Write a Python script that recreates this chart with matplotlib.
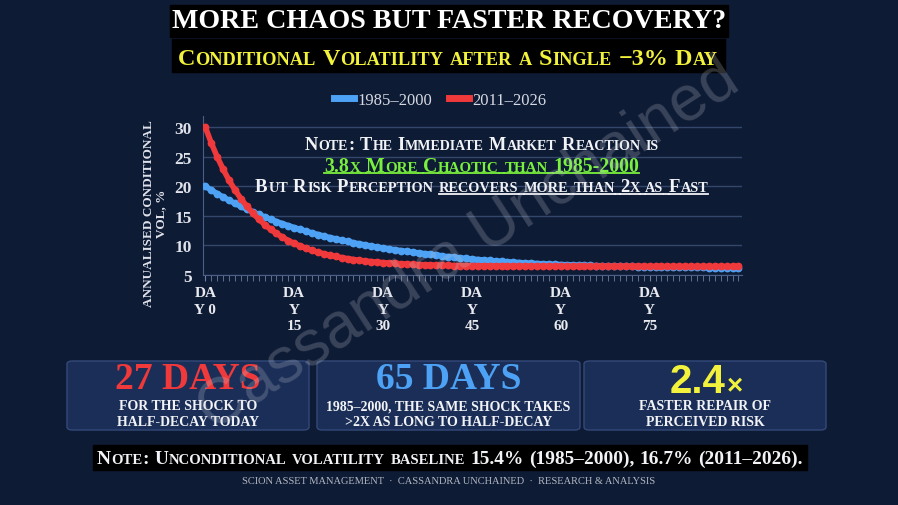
import matplotlib
matplotlib.use("Agg")
import matplotlib.pyplot as plt
from matplotlib.patches import FancyBboxPatch, Rectangle
from matplotlib.lines import Line2D

# ---- data ----
days = list(range(91))
vol_1985_2000 = [
    20.0, 19.37, 18.76, 18.19, 17.63, 17.11, 16.61, 16.13, 15.68, 15.24,
    14.83, 14.43, 14.05, 13.69, 13.35, 13.02, 12.71, 12.41, 12.12, 11.85,
    11.59, 11.34, 11.11, 10.88, 10.67, 10.46, 10.27, 10.08, 9.90, 9.73,
    9.57, 9.41, 9.27, 9.13, 8.99, 8.86, 8.74, 8.62, 8.51, 8.41,
    8.21, 8.10, 8.00, 7.90, 7.80, 7.71, 7.62, 7.54, 7.46, 7.38,
    7.31, 7.24, 7.17, 7.11, 7.05, 6.99, 6.94, 6.90, 6.85, 6.81,
    6.77, 6.74, 6.70, 6.67, 6.64, 6.61, 6.58, 6.56, 6.53, 6.51,
    6.49, 6.47, 6.45, 6.43, 6.41, 6.40, 6.38, 6.36, 6.35, 6.34,
    6.32, 6.31, 6.30, 6.29, 6.28, 6.26, 6.25, 6.24, 6.23, 6.22,
    6.21,
]
vol_2011_2026 = [
    30.0, 27.34, 24.98, 22.89, 21.03, 19.38, 17.92, 16.62, 15.47, 14.46,
    13.54, 12.74, 12.03, 11.40, 10.83, 10.34, 9.91, 9.51, 9.16, 8.85,
    8.59, 8.35, 8.13, 7.94, 7.77, 7.62, 7.49, 7.37, 7.27, 7.18,
    7.09, 7.02, 6.96, 6.90, 6.85, 6.80, 6.76, 6.73, 6.70, 6.67,
    6.64, 6.62, 6.60, 6.59, 6.58, 6.57, 6.56, 6.55, 6.54, 6.53,
    6.53, 6.52, 6.52, 6.51, 6.51, 6.50, 6.50, 6.50, 6.49, 6.49,
    6.49, 6.48, 6.48, 6.48, 6.47, 6.47, 6.47, 6.47, 6.47, 6.46,
    6.46, 6.46, 6.46, 6.46, 6.46, 6.46, 6.46, 6.46, 6.46, 6.46,
    6.45, 6.45, 6.45, 6.45, 6.45, 6.45, 6.45, 6.45, 6.45, 6.45,
    6.45,
]
series_labels = ["1985–2000", "2011–2026"]
x_tick_days = [0, 15, 30, 45, 60, 75]
x_tick_labels = ["DA\nY 0", "DA\nY\n15", "DA\nY\n30", "DA\nY\n45", "DA\nY\n60", "DA\nY\n75"]
y_ticks = [5, 10, 15, 20, 25, 30]
box_headlines = ["27 DAYS", "65 DAYS", "2.4"]
box_texts = ["FOR THE SHOCK TO\nHALF-DECAY TODAY",
             "1985–2000, THE SAME SHOCK TAKES\n>2X AS LONG TO HALF-DECAY",
             "FASTER REPAIR OF\nPERCEIVED RISK"]

W, H = 898, 506
BG = "#0e1b35"
BLUE = "#4da2f5"
RED = "#f0393a"
GREEN = "#79f03c"
YELLOW = "#f2f23c"
WHITE = "#f2f3f6"
SANS = ["Liberation Sans", "DejaVu Sans"]

plt.rcParams["font.family"] = ["Liberation Serif", "DejaVu Serif"]

fig = plt.figure(figsize=(W / 100, H / 100), dpi=100, facecolor=BG)
renderer = fig.canvas.get_renderer()


def fx(px):
    return px / W


def fy(py):
    return 1 - py / H


def width_of(s, size, weight="bold", family=None):
    t = fig.text(0, 0, s, fontsize=size, fontweight=weight, family=family)
    w = t.get_window_extent(renderer).width
    t.remove()
    return w


def draw_runs(cx, cy, runs, weight="bold", family=None, zorder=5):
    # runs: (text, size, color, underline); spaces are separate runs
    big = max(r[1] for r in runs)
    gap = width_of("X X", big, weight, family) - width_of("XX", big, weight, family)
    placed = []
    x = 0
    for text, size, color, ul in runs:
        if text == " ":
            placed.append((x, x + gap, None, size, color, ul))
            x += gap
            continue
        w = width_of(text, size, weight, family)
        placed.append((x, x + w, text, size, color, ul))
        x += w + 0.04 * size
    left = cx - x / 2
    cap = 0.66 * big * 100 / 72
    base = cy + cap / 2
    for x0, x1, text, size, color, ul in placed:
        if text is not None:
            fig.text(fx(left + x0), fy(base), text, fontsize=size, color=color,
                     fontweight=weight, family=family, ha="left", va="baseline",
                     zorder=zorder)
        if ul:
            fig.add_artist(Line2D([fx(left + x0), fx(left + x1)],
                                  [fy(base + 2.5), fy(base + 2.5)],
                                  color=color, lw=1.3, transform=fig.transFigure,
                                  zorder=zorder))
    return left, left + x


def caps_line(cx, cy, parts, big, target=None, ratio=0.76, weight="bold"):
    # fake small caps: lower-case letters drawn as smaller capitals
    def make(bsize):
        runs = []
        for text, color, ul in parts:
            for ch in text:
                if ch == " ":
                    runs.append([" ", bsize, color, ul])
                    continue
                size = bsize * ratio if ch.islower() else bsize
                if runs and runs[-1][0] != " " and runs[-1][1] == size and runs[-1][2] == color:
                    runs[-1][0] += ch.upper()
                else:
                    runs.append([ch.upper(), size, color, ul])
        return runs

    if target:
        total = 0
        for text, size, color, ul in make(big):
            total += width_of("X X", big) - width_of("XX", big) if text == " " else width_of(text, size) + 0.04 * size
        big = big * target / total
    return draw_runs(cx, cy, make(big), weight)


def fitted_text(cx, cy, s, size, target, **kw):
    t = fig.text(fx(cx), fy(cy), s, fontsize=size, ha="center", va="center", **kw)
    w = t.get_window_extent(renderer).width
    t.set_fontsize(size * target / w)
    return t


# ---- header ----
fig.add_artist(Rectangle((fx(170), fy(38)), fx(728 - 170), (38 - 6) / H,
                         transform=fig.transFigure, color="black", zorder=1))
fig.add_artist(Rectangle((fx(172), fy(73)), fx(725 - 172), (73 - 40) / H,
                         transform=fig.transFigure, color="black", zorder=1))
fitted_text(449, 21, "MORE CHAOS BUT FASTER RECOVERY?", 20, 552,
            color="white", fontweight="bold", zorder=5)
caps_line(448, 57, [("Conditional Volatility after a Single −3% Day", YELLOW, False)],
          16, target=544)

# ---- chart ----
ax = fig.add_axes([fx(203), fy(276), fx(742 - 203), (276 - 117) / H])
ax.set_facecolor(BG)
ax.plot(days, vol_1985_2000, color=BLUE, lw=4, marker="o", ms=5.6, mew=0, zorder=3)
ax.plot(days, vol_2011_2026, color=RED, lw=4, marker="o", ms=5.6, mew=0, zorder=4)
ax.set_xlim(-0.4, 90.6)
ax.set_ylim(5, 31.9)
ax.set_yticks(y_ticks)
ax.grid(axis="y", color="#33466c", lw=1)
ax.set_axisbelow(True)
for s in ["top", "right"]:
    ax.spines[s].set_visible(False)
for s in ["left", "bottom"]:
    ax.spines[s].set_color("#4b5e85")
ax.set_xticks(x_tick_days)
ax.set_xticklabels(x_tick_labels)
ax.set_xticks(days, minor=True)
ax.tick_params(axis="x", which="both", colors="#6b7ea3", length=4, direction="out")
ax.tick_params(axis="x", which="major", labelcolor="#e8eaf0", labelsize=11, pad=4)
for lab in ax.get_xticklabels():
    lab.set_fontweight("bold")
    lab.set_linespacing(1.35)
ax.tick_params(axis="y", length=0, labelcolor="#dfe2ea", labelsize=12.5, pad=8)
for lab in ax.get_yticklabels():
    lab.set_fontweight("bold")

fig.text(fx(155), fy(214), "ANNUALISED CONDITIONAL\nVOL, %", rotation=90,
         ha="center", va="center", fontsize=9.5, fontweight="bold",
         color="#dfe2ea", linespacing=1.1)

handles = [Line2D([], [], color=BLUE, lw=5), Line2D([], [], color=RED, lw=5)]
fig.legend(handles, series_labels, loc="center", bbox_to_anchor=(fx(440), fy(101)),
           ncol=2, frameon=False, fontsize=12, labelcolor="#d5d9e2",
           handlelength=1.2, handletextpad=0.2, columnspacing=1.0)

# note inside the chart
caps_line(482, 144, [("Note: The Immediate Market Reaction is", WHITE, False)],
          12, target=354)
caps_line(482, 165, [("3.8x More Chaotic than 1985-2000", GREEN, True)],
          12, target=315)
caps_line(482, 186, [("But Risk Perception ", WHITE, False),
                     ("recovers more than 2x as Fast", WHITE, True)],
          12, target=452)

# ---- stat boxes ----
box_x = [(67, 309), (317, 580), (584, 826)]
head_colors = [RED, BLUE, YELLOW]
for (x0, x1), head, note, col in zip(box_x, box_headlines, box_texts, head_colors):
    fig.add_artist(FancyBboxPatch((fx(x0), fy(431)), fx(x1 - x0), (431 - 362) / H,
                                  boxstyle="round,pad=0,rounding_size=0.006",
                                  transform=fig.transFigure, fc="#1b2e57",
                                  ec="#33497a", lw=1, zorder=1))
    cx = (x0 + x1) / 2
    if head == "2.4":
        draw_runs(cx + 2, 380, [(head, 29, col, False), ("×", 20, col, False)],
                  family=SANS)
    else:
        fig.text(fx(cx), fy(380), head, fontsize=27, fontweight="bold", color=col,
                 ha="center", va="center", zorder=5)
    fig.text(fx(cx), fy(415), note, fontsize=10, fontweight="bold", color=WHITE,
             ha="center", va="center", linespacing=1.3, zorder=5)

# ---- bottom note ----
fig.add_artist(Rectangle((fx(93), fy(471)), fx(807 - 93), (471 - 446) / H,
                         transform=fig.transFigure, color="black", zorder=1))
caps_line(450, 458, [("Note: Unconditional volatility baseline 15.4% (1985–2000), 16.7% (2011–2026).",
                      WHITE, False)], 13, target=704)
fig.text(fx(449), fy(482),
         "SCION ASSET MANAGEMENT  ·  CASSANDRA UNCHAINED  ·  RESEARCH & ANALYSIS",
         fontsize=7.5, color="#b4b8c2", ha="center", va="center")

# ---- watermark ----
fig.text(fx(468), fy(245), "Cassandra Unchained", fontsize=46,
         family=SANS, color="#c4c9d3", alpha=0.24,
         rotation=33, rotation_mode="anchor", ha="center", va="center", zorder=20)

fig.savefig("out.png", dpi=100, facecolor=BG)
